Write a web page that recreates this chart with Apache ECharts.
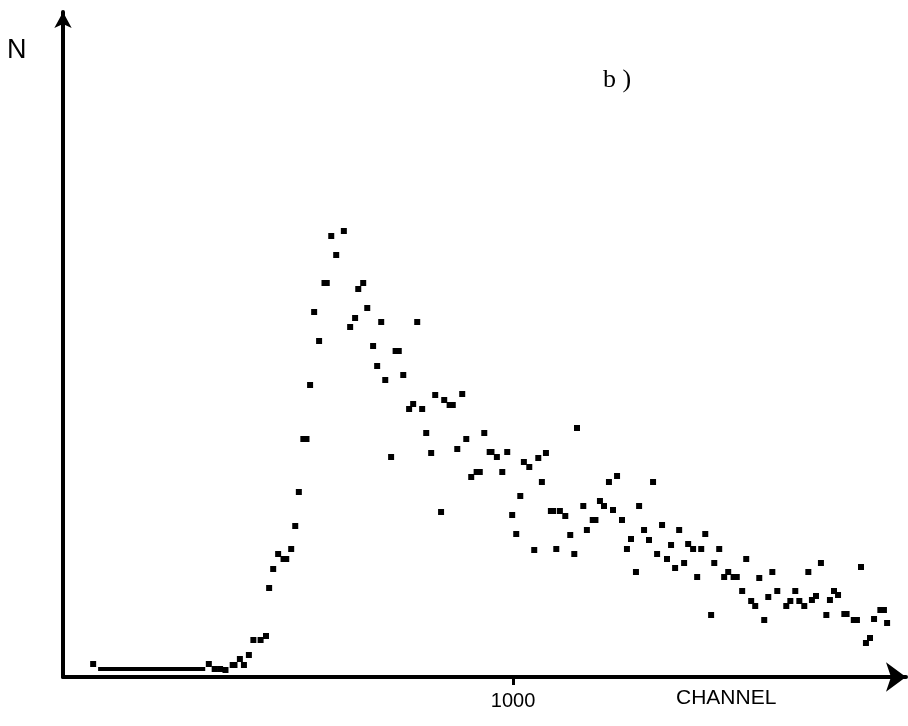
<!DOCTYPE html>
<html>
<head>
<meta charset="utf-8">
<script src="https://cdn.jsdelivr.net/npm/echarts@6/dist/echarts.min.js"></script>
<style>
html,body{margin:0;padding:0;background:#fff;}
#chart{width:908px;height:726px;}
</style>
</head>
<body>
<div id="chart"></div>
<script>
// Channel numbers of the plotted points
var channels = [67,324,337,349,361,377,381,393,402,413,423,439,451,458,467,478,490,496,507,516,524,534,541,549,558,569,581,586,596,607,624,638,649,656,667,676,689,698,707,716,729,739,746,756,769,778,787,798,807,818,827,840,847,859,866,876,887,896,907,919,926,936,948,952,964,976,987,998,1007,1016,1024,1036,1047,1056,1064,1073,1084,1089,1096,1104,1116,1127,1136,1142,1156,1164,1177,1183,1193,1202,1213,1222,1231,1242,1253,1262,1273,1280,1291,1302,1311,1320,1331,1342,1351,1360,1369,1380,1389,1400,1409,1418,1427,1440,1447,1458,1469,1478,1490,1497,1509,1518,1529,1538,1547,1558,1567,1576,1587,1607,1616,1627,1636,1647,1656,1664,1673,1684,1696,1704,1713,1722,1736,1741,1757,1764,1773,1784,1793,1802,1816,1824,1831];
// Counts N (arbitrary units) for each point
var counts = [13,13,8,8,7,12,12,18,12,22,37,37,41,89,108,123,118,118,128,151,185,238,238,292,365,336,394,394,441,422,446,350,359,388,394,369,331,311,355,297,220,326,326,302,268,273,355,268,244,224,282,165,277,272,272,228,283,238,200,205,205,244,225,225,220,205,225,162,143,181,215,210,127,219,195,224,166,166,128,166,161,142,123,249,171,147,157,157,176,171,195,167,201,157,128,138,105,171,147,137,195,123,152,118,132,109,147,114,133,128,100,128,143,62,114,128,100,105,100,100,86,118,76,71,99,57,80,105,86,71,76,86,76,71,105,77,81,114,62,77,86,82,63,63,57,57,110,34,39,58,67,67,54];
// Low-count run at the start of the spectrum (merged points)
var baseChannels = [78,316];
var baseCounts = [8,8];
// Tick labels
var xTickValues = [1000];
var xTickLabels = ['1000'];

var pts = channels.map(function(c,i){return [c,counts[i]];});
var basePts = baseChannels.map(function(c,i){return [c,baseCounts[i]];});

var chart = echarts.init(document.getElementById('chart'), null, {renderer:'canvas'});
chart.setOption({
  animation:false,
  backgroundColor:'#ffffff',
  grid:{left:63, top:12, right:2, bottom:49, containLabel:false},
  xAxis:{
    type:'value', min:0, max:1873,
    axisLine:{show:true, onZero:false, symbol:['none','arrow'], symbolSize:[22,20], lineStyle:{color:'#000', width:4}},
    axisTick:{show:true, customValues:xTickValues, length:8, lineStyle:{color:'#000', width:3}},
    axisLabel:{show:true, customValues:xTickValues, margin:14,
      formatter:function(v){var k=xTickValues.indexOf(v);return k>=0?xTickLabels[k]:'';},
      color:'#000', fontSize:20, fontFamily:'Liberation Sans'},
    splitLine:{show:false}
  },
  yAxis:{
    type:'value', min:0, max:665,
    axisLine:{show:true, onZero:false, symbol:['none','arrow'], symbolSize:[13,16], lineStyle:{color:'#000', width:4}},
    axisTick:{show:false}, axisLabel:{show:false}, splitLine:{show:false}
  },
  graphic:[
    {type:'text', left:7, top:37, style:{text:'N', fill:'#000', font:'27px "Liberation Sans"'}},
    {type:'text', left:603, top:67, style:{text:'b )', fill:'#000', font:'26px "Liberation Serif"'}},
    {type:'text', left:676, top:688, style:{text:'CHANNEL', fill:'#000', font:'21px "Liberation Sans"'}}
  ],
  series:[
    {type:'line', data:basePts, symbol:'none', lineStyle:{color:'#000', width:4}, silent:true},
    {type:'scatter', data:pts, symbol:'rect', symbolSize:[6,6], itemStyle:{color:'#000', opacity:1}, silent:true}
  ]
});
</script>
</body>
</html>
